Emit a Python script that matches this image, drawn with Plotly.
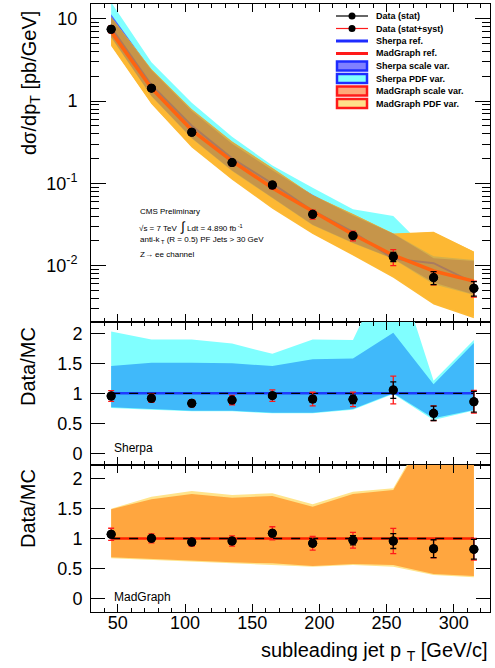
import numpy as np
import plotly.graph_objects as go

# subleading-jet pT bin centres [GeV/c]
pt = [45, 75, 105, 135, 165, 195, 225, 255, 285, 315]

# measured dsigma/dpT [pb/GeV]
xsec = [7.5, 1.44, 0.419, 0.179, 0.0955, 0.042, 0.0231, 0.0128, 0.00713, 0.0053]
# relative uncertainties: statistical and stat+syst
stat_rel = [0.04, 0.03, 0.03, 0.035, 0.04, 0.05, 0.08, 0.13, 0.18, 0.20]
tot_rel = [0.094, 0.075, 0.072, 0.088, 0.10, 0.125, 0.135, 0.22, 0.185, 0.22]

# data / MC for the two reference predictions
ratio_sherpa = [0.955, 0.917, 0.833, 0.888, 0.962, 0.905, 0.90, 1.055, 0.667, 0.86]
ratio_madgraph = [1.07, 1.003, 0.942, 0.958, 1.087, 0.92, 0.97, 0.958, 0.83, 0.82]

# variation envelopes, relative to each reference prediction
sherpa_pdf_lo = [0.757, 0.728, 0.70, 0.70, 0.667, 0.667, 0.728, 0.99, 0.555, 0.712]
sherpa_pdf_hi = [2.03, 1.90, 1.90, 1.83, 1.66, 1.90, 1.89, 3.30, 1.21, 1.89]
sherpa_scale_lo = [0.767, 0.738, 0.71, 0.71, 0.677, 0.677, 0.738, 1.0, 0.583, 0.722]
sherpa_scale_hi = [1.455, 1.51, 1.51, 1.50, 1.455, 1.567, 1.583, 2.01, 1.15, 1.84]
mg_pdf_lo = [0.67, 0.642, 0.614, 0.59, 0.558, 0.53, 0.558, 0.53, 0.392, 0.353]
mg_pdf_hi = [1.497, 1.697, 1.792, 1.725, 1.753, 1.57, 1.78, 1.837, 3.0, 2.3]
mg_scale_lo = [0.686, 0.652, 0.63, 0.603, 0.586, 0.542, 0.575, 0.558, 0.408, 0.375]
mg_scale_hi = [1.486, 1.653, 1.742, 1.68, 1.708, 1.53, 1.742, 1.808, 2.95, 2.27]

x = np.array(pt, float)
d = np.array(xsec)
rs = np.array(ratio_sherpa)
rm = np.array(ratio_madgraph)
sherpa_ref = d / rs
mg_ref = d / rm

sh_pdf = (sherpa_ref * np.array(sherpa_pdf_lo), sherpa_ref * np.array(sherpa_pdf_hi))
sh_sc = (sherpa_ref * np.array(sherpa_scale_lo), sherpa_ref * np.array(sherpa_scale_hi))
mg_pdf = (mg_ref * np.array(mg_pdf_lo), mg_ref * np.array(mg_pdf_hi))
mg_sc = (mg_ref * np.array(mg_scale_lo), mg_ref * np.array(mg_scale_hi))


def overlap(a, b):
    lo = np.maximum(a[0], b[0])
    hi = np.maximum(np.minimum(a[1], b[1]), lo)
    return lo, hi


def band(lo, hi, color, xa, ya):
    return go.Scatter(
        x=np.concatenate([x, x[::-1]]),
        y=np.concatenate([np.asarray(hi), np.asarray(lo)[::-1]]),
        fill="toself", fillcolor=color, mode="lines", line=dict(width=0),
        hoverinfo="skip", showlegend=False, xaxis=xa, yaxis=ya)


def curve(y, color, width, xa, ya, dash="solid"):
    return go.Scatter(x=x, y=y, mode="lines", line=dict(color=color, width=width, dash=dash),
                      hoverinfo="skip", showlegend=False, xaxis=xa, yaxis=ya)


def points(y, xa, ya):
    y = np.asarray(y)
    tot = go.Scatter(x=x, y=y, mode="markers", marker=dict(size=9, color="black"),
                     error_y=dict(type="data", array=y * np.array(tot_rel), color="#ff1a1a",
                                  thickness=1.3, width=3),
                     showlegend=False, xaxis=xa, yaxis=ya)
    stat = go.Scatter(x=x, y=y, mode="markers", marker=dict(size=9, color="black"),
                      error_y=dict(type="data", array=y * np.array(stat_rel), color="black",
                                   thickness=1.3, width=3),
                      showlegend=False, xaxis=xa, yaxis=ya)
    return [tot, stat]


fig = go.Figure()

# --- cross section panel ---
fig.add_trace(band(*sh_pdf, "#80ffff", "x", "y"))
fig.add_trace(band(*sh_sc, "#4f6fff", "x", "y"))
fig.add_trace(band(*mg_pdf, "#fdba36", "x", "y"))
fig.add_trace(band(*mg_sc, "#fdb833", "x", "y"))
fig.add_trace(band(*overlap(mg_pdf, sh_pdf), "#d4af4c", "x", "y"))
fig.add_trace(band(*overlap(mg_pdf, sh_sc), "#c6954a", "x", "y"))
fig.add_trace(curve(sherpa_ref, "#a97b60", 2, "x", "y"))
fig.add_trace(curve(mg_ref, "#ff6410", 3.5, "x", "y"))
for t in points(d, "x", "y"):
    fig.add_trace(t)

# --- Sherpa ratio panel ---
ones = sherpa_ref / sherpa_ref
fig.add_trace(band(sherpa_pdf_lo, sherpa_pdf_hi, "#80ffff", "x2", "y2"))
fig.add_trace(band(sherpa_scale_lo, sherpa_scale_hi, "#40b9fa", "x2", "y2"))
fig.add_trace(curve(ones, "#1e3cff", 2.5, "x2", "y2"))
fig.add_trace(curve(ones, "black", 1.3, "x2", "y2", dash="dash"))
for t in points(rs, "x2", "y2"):
    fig.add_trace(t)

# --- MadGraph ratio panel ---
fig.add_trace(band(mg_pdf_lo, mg_pdf_hi, "#ffe48c", "x3", "y3"))
fig.add_trace(band(mg_scale_lo, mg_scale_hi, "#ffa63f", "x3", "y3"))
fig.add_trace(curve(ones, "#ff2000", 2.5, "x3", "y3"))
fig.add_trace(curve(ones, "black", 1.3, "x3", "y3", dash="dash"))
for t in points(rm, "x3", "y3"):
    fig.add_trace(t)

# --- page geometry ---
W, H = 495, 668
L, R, T, B = 91, 5, 4, 56


def px(xp):
    return (xp - L) / (W - L - R)


def py(yp):
    return (H - B - yp) / (H - T - B)


FONT = "Liberation Sans, Arial, Helvetica, sans-serif"

xcommon = dict(range=[30, 327], tickmode="linear", tick0=0, dtick=50, ticks="inside",
               ticklen=8, tickcolor="black", showline=True, linecolor="black", linewidth=1,
               mirror="allticks", showgrid=False, zeroline=False,
               minor=dict(ticks="inside", dtick=10, ticklen=4, tickcolor="black", showgrid=False))

decades = [0.01, 0.1, 1, 10]
minor_log = [m * dec for dec in [0.001, 0.01, 0.1, 1, 10] for m in range(2, 10)]

fig.update_layout(
    width=W, height=H, margin=dict(l=L, r=R, t=T, b=B),
    plot_bgcolor="white", paper_bgcolor="white", showlegend=False,
    font=dict(family=FONT, size=18, color="black"),
    xaxis=dict(xcommon, anchor="y", showticklabels=False),
    xaxis2=dict(xcommon, anchor="y2", showticklabels=False),
    xaxis3=dict(xcommon, anchor="y3", showticklabels=True, ticklabelstandoff=-6),
    yaxis=dict(type="log", range=[-2.687, 1.182], domain=[py(322), 1], anchor="x",
               tickmode="array", tickvals=decades,
               ticktext=["10<sup>-2</sup>", "10<sup>-1</sup>", "1", "10"],
               ticks="inside", ticklen=15, tickcolor="black", showline=True, linecolor="black",
               linewidth=1, mirror="allticks", showgrid=False, zeroline=False,
               ticklabelstandoff=9,
               minor=dict(tickvals=minor_log, ticks="inside", ticklen=8, tickcolor="black",
                          showgrid=False)),
    yaxis2=dict(range=[-0.195, 2.19], domain=[py(465), py(322)], anchor="x2",
                tickmode="array", tickvals=[0, 0.5, 1, 1.5, 2],
                ticks="inside", ticklen=14, tickcolor="black", showline=True, linecolor="black",
                linewidth=1, mirror="allticks", showgrid=False, zeroline=False,
                ticklabelstandoff=4),
    yaxis3=dict(range=[-0.225, 2.225], domain=[0, py(465)], anchor="x3",
                tickmode="array", tickvals=[0, 0.5, 1, 1.5, 2],
                ticks="inside", ticklen=14, tickcolor="black", showline=True, linecolor="black",
                linewidth=1, mirror="allticks", showgrid=False, zeroline=False,
                ticklabelstandoff=4),
)

ann = []
shapes = []


def text(t, xp, yp, size, xanchor="left", angle=0, bold=False):
    if bold:
        t = "<b>" + t + "</b>"
    ann.append(dict(text=t, x=px(xp), y=py(yp), xref="paper", yref="paper",
                    xanchor=xanchor, yanchor="middle", showarrow=False, textangle=angle,
                    font=dict(family=FONT, size=size, color="black")))


# axis titles
text("dσ/dp<sub>T</sub> [pb/GeV]", 30, 83, 20, xanchor="center", angle=-90)
text("Data/MC", 28, 367, 20, xanchor="center", angle=-90)
text("Data/MC", 28, 509, 20, xanchor="center", angle=-90)
text("subleading jet p <sub>T</sub> [GeV/c]", 489, 651, 20, xanchor="right")

# panel labels
text("Sherpa", 112, 448, 12)
text("MadGraph", 112, 597, 12)

# analysis description
text("CMS Preliminary", 138, 212, 8)
text("√s = 7 TeV  <span style='font-size:13px'>∫</span> Ldt = 4.890 fb<sup> -1</sup>", 137, 226, 8)
text("anti-k<sub> T</sub> (R = 0.5) PF Jets > 30 GeV", 138, 240, 8)
text("Z→ ee channel", 138, 254, 8)

# legend
leg_x0, leg_x1, leg_tx = 336, 368, 374
rows = [16, 28.5, 41, 53.5, 66, 78.5, 91, 103.5]


def hline(yp, color, width):
    shapes.append(dict(type="line", xref="paper", yref="paper", x0=px(leg_x0), x1=px(leg_x1),
                       y0=py(yp), y1=py(yp), line=dict(color=color, width=width)))


def dot(yp):
    r = 3.5
    xc = (leg_x0 + leg_x1) / 2
    shapes.append(dict(type="circle", xref="paper", yref="paper", x0=px(xc - r), x1=px(xc + r),
                       y0=py(yp + r), y1=py(yp - r), fillcolor="black",
                       line=dict(color="black", width=0)))


def box(yp, fill, edge):
    shapes.append(dict(type="rect", xref="paper", yref="paper", x0=px(leg_x0 + 1),
                       x1=px(leg_x1 - 1), y0=py(yp + 4.5), y1=py(yp - 4.5), fillcolor=fill,
                       line=dict(color=edge, width=2.5)))


hline(rows[0], "black", 1.2)
dot(rows[0])
hline(rows[1], "#ff1a1a", 1.2)
dot(rows[1])
hline(rows[2], "#1e2cff", 3)
hline(rows[3], "#ff1a1a", 3)
box(rows[4], "#8080ff", "#1e2cff")
box(rows[5], "#80ffff", "#1e2cff")
box(rows[6], "#ffa878", "#ff1a1a")
box(rows[7], "#ffe08a", "#ff1a1a")

labels = ["Data (stat)", "Data (stat+syst)", "Sherpa ref.", "MadGraph ref.",
          "Sherpa scale var.", "Sherpa PDF var.", "MadGraph scale var.", "MadGraph PDF var."]
for lab, yp in zip(labels, rows):
    text(lab, leg_tx, yp, 9, bold=True)

fig.update_layout(annotations=ann, shapes=shapes)
fig.write_html("out.html")
